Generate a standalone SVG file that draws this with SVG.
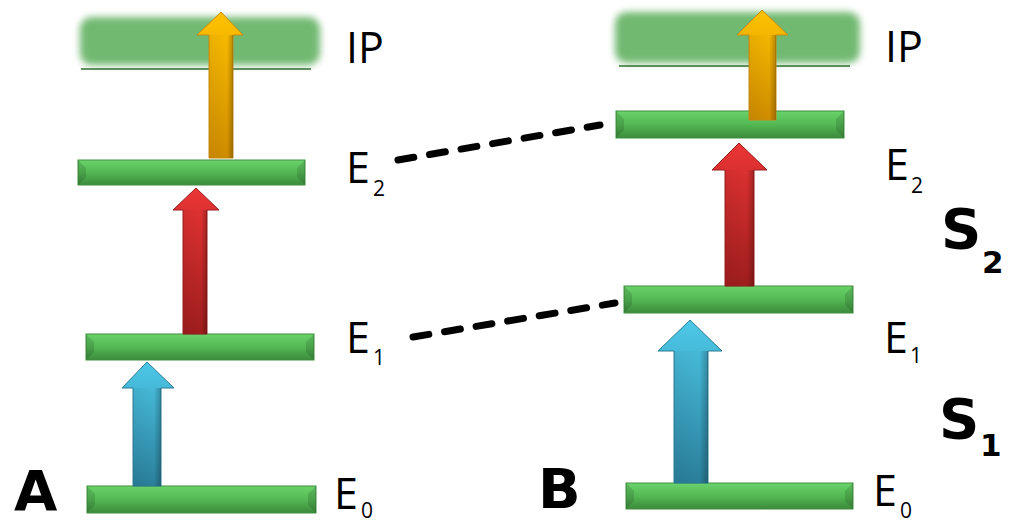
<svg xmlns="http://www.w3.org/2000/svg" width="1014" height="523" viewBox="0 0 1014 523">
<defs>
<linearGradient id="gBar" x1="0" y1="0" x2="0" y2="1">
<stop offset="0" stop-color="#6bd36b"/>
<stop offset="0.5" stop-color="#53b853"/>
<stop offset="1" stop-color="#3c8a3c"/>
</linearGradient>
<linearGradient id="gBlue" x1="0" y1="0" x2="0" y2="1">
<stop offset="0" stop-color="#4dc8e8"/>
<stop offset="1" stop-color="#2a7f9b"/>
</linearGradient>
<linearGradient id="gRed" x1="0" y1="0" x2="0" y2="1">
<stop offset="0" stop-color="#ea3535"/>
<stop offset="1" stop-color="#9f1d1d"/>
</linearGradient>
<linearGradient id="gYel" x1="0" y1="0" x2="0" y2="1">
<stop offset="0" stop-color="#ffc200"/>
<stop offset="1" stop-color="#cf8c00"/>
</linearGradient>
<linearGradient id="gShade" x1="0" y1="0" x2="1" y2="0">
<stop offset="0" stop-color="#000" stop-opacity="0.05"/>
<stop offset="0.75" stop-color="#000" stop-opacity="0"/>
<stop offset="1" stop-color="#000" stop-opacity="0.25"/>
</linearGradient>
<filter id="blur" x="-10%" y="-30%" width="120%" height="160%">
<feGaussianBlur stdDeviation="3.5"/>
</filter>
</defs>
<style>
.bar{fill:url(#gBar);stroke:#3f8f3f;stroke-width:1}
.bev{fill:#000;opacity:0.12}
.band{fill:#6ab56a;filter:url(#blur);opacity:0.95}
.ipline{stroke:#2f6e2f;stroke-width:1.5}
.lbl{font-family:"Open Sans","DejaVu Sans",sans-serif;font-size:43px;fill:#000}
.sub{font-family:"Open Sans","DejaVu Sans",sans-serif;font-size:21px;fill:#000}
.big{font-family:"DejaVu Sans","Open Sans",sans-serif;font-weight:bold;font-size:56px;fill:#000}
.bigsub{font-family:"DejaVu Sans","Open Sans",sans-serif;font-weight:bold;font-size:31px;fill:#000}
.dash{stroke:#000;stroke-width:7;stroke-linecap:round;stroke-dasharray:16 16;fill:none}
.ablue{fill:url(#gBlue);stroke:#2b7c95;stroke-width:1}
.ared{fill:url(#gRed);stroke:#9a1c1c;stroke-width:1}
.ayel{fill:url(#gYel);stroke:#c98a10;stroke-width:1}
.shade{fill:url(#gShade)}
</style>

<g id="panelA">
<g id="A-IP">
<rect class="band" x="80" y="17" width="240" height="48" rx="12"/>
<line class="ipline" x1="81" y1="69" x2="311" y2="69"/>
<text class="lbl" x="346" y="63">IP</text>
</g>
<g id="A-E2">
<rect class="bar" x="78" y="160" width="227" height="25"/>
<polygon class="bev" points="78,160 86,168 86,177 78,185"/>
<polygon class="bev" points="305,160 297,168 297,177 305,185"/>
<text class="lbl" x="346" y="183">E</text><text class="sub" x="373" y="196">2</text>
</g>
<g id="A-E1">
<rect class="bar" x="86" y="334" width="228" height="26"/>
<polygon class="bev" points="86,334 94,342 94,352 86,360"/>
<polygon class="bev" points="314,334 306,342 306,352 314,360"/>
<text class="lbl" x="346" y="353">E</text><text class="sub" x="373" y="365">1</text>
</g>
<g id="A-E0">
<rect class="bar" x="87" y="486" width="229" height="27"/>
<polygon class="bev" points="87,486 95,494 95,505 87,513"/>
<polygon class="bev" points="316,486 308,494 308,505 316,513"/>
<text class="lbl" x="334" y="509">E</text><text class="sub" x="361" y="518">0</text>
</g>
<g id="A-arrows">
<path class="ayel" d="M221,12 L243,35 L233,35 L233,158 L209,158 L209,35 L197,35 Z"/>
<path class="shade" d="M233,35 L233,158 L209,158 L209,35 Z"/>
<path class="ared" d="M196,188 L219,210 L207,210 L207,334 L183,334 L183,210 L173,210 Z"/>
<path class="shade" d="M207,210 L207,334 L183,334 L183,210 Z"/>
<path class="ablue" d="M147,362 L174,388 L161,388 L161,486 L133,486 L133,388 L122,388 Z"/>
<path class="shade" d="M161,388 L161,486 L133,486 L133,388 Z"/>
</g>
<text id="labelA" class="big" x="14" y="510">A</text>
</g>

<g id="panelB">
<g id="B-IP">
<rect class="band" x="615" y="12" width="245" height="51" rx="12"/>
<line class="ipline" x1="619" y1="66" x2="850" y2="66"/>
<text class="lbl" x="885" y="62">IP</text>
</g>
<g id="B-E2">
<rect class="bar" x="616" y="111" width="228" height="27"/>
<polygon class="bev" points="616,111 624,119 624,130 616,138"/>
<polygon class="bev" points="844,111 836,119 836,130 844,138"/>
<text class="lbl" x="885" y="180">E</text><text class="sub" x="911" y="193">2</text>
</g>
<g id="B-E1">
<rect class="bar" x="624" y="286" width="229" height="27"/>
<polygon class="bev" points="624,286 632,294 632,305 624,313"/>
<polygon class="bev" points="853,286 845,294 845,305 853,313"/>
<text class="lbl" x="884" y="353">E</text><text class="sub" x="910" y="363">1</text>
</g>
<g id="B-E0">
<rect class="bar" x="626" y="483" width="227" height="26"/>
<polygon class="bev" points="626,483 634,491 634,501 626,509"/>
<polygon class="bev" points="853,483 845,491 845,501 853,509"/>
<text class="lbl" x="873" y="506">E</text><text class="sub" x="900" y="518">0</text>
</g>
<g id="B-arrows">
<path class="ayel" d="M762,10 L788,35 L776,35 L776,120 L749,120 L749,35 L737,35 Z"/>
<path class="shade" d="M776,35 L776,120 L749,120 L749,35 Z"/>
<path class="ared" d="M739,143 L767,170 L754,170 L754,286 L725,286 L725,170 L712,170 Z"/>
<path class="shade" d="M754,170 L754,286 L725,286 L725,170 Z"/>
<path class="ablue" d="M690,320 L722,351 L708,351 L708,483 L674,483 L674,351 L658,351 Z"/>
<path class="shade" d="M708,351 L708,483 L674,483 L674,351 Z"/>
</g>
<text id="labelB" class="big" x="538" y="508">B</text>
<g id="S2"><text class="big" x="941" y="248">S</text><text class="bigsub" x="982" y="273">2</text></g>
<g id="S1"><text class="big" x="939" y="438">S</text><text class="bigsub" x="980" y="456">1</text></g>
</g>

<g id="connectors">
<line class="dash" x1="398" y1="160" x2="600" y2="125"/>
<line class="dash" x1="413" y1="337" x2="615" y2="303"/>
</g>
</svg>
